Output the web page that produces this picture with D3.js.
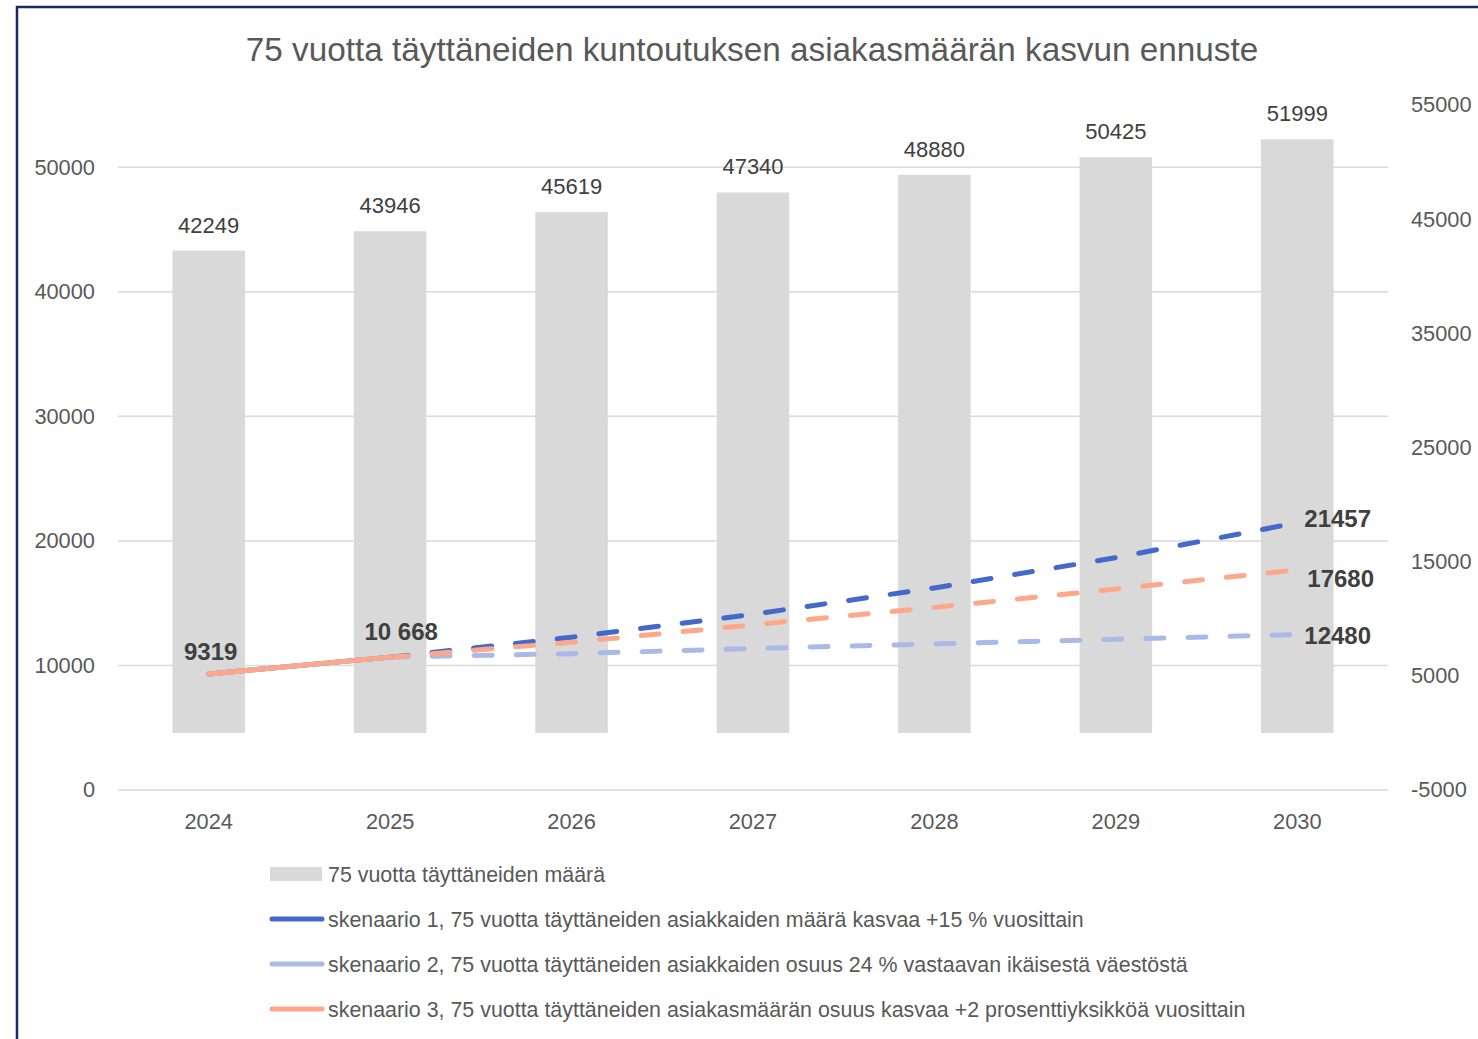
<!DOCTYPE html>
<html>
<head>
<meta charset="utf-8">
<script src="https://cdn.jsdelivr.net/npm/d3@7"></script>
<style>
  body { margin: 0; background: #fff; }
  svg { display: block; font-family: "Liberation Sans", Arial, sans-serif; }
</style>
</head>
<body>
<svg width="1478" height="1039"></svg>
<script>
var years = ['2024', '2025', '2026', '2027', '2028', '2029', '2030'];
var population = [42249, 43946, 45619, 47340, 48880, 50425, 51999];
var scenario1 = [9319, 10668, 12268, 14108, 16224, 18658, 21457];
var scenario2 = [9319, 10668, 10949, 11362, 11731, 12102, 12480];
var scenario3 = [9319, 10668, 11861, 13255, 14664, 16136, 17680];
var leftTicks = [0, 10000, 20000, 30000, 40000, 50000];
var rightTicks = [-5000, 5000, 15000, 25000, 35000, 45000, 55000];
var legendLabels = [
  '75 vuotta täyttäneiden määrä',
  'skenaario 1, 75 vuotta täyttäneiden asiakkaiden määrä kasvaa +15 % vuosittain',
  'skenaario 2, 75 vuotta täyttäneiden asiakkaiden osuus 24 % vastaavan ikäisestä väestöstä',
  'skenaario 3, 75 vuotta täyttäneiden asiakasmäärän osuus kasvaa +2 prosenttiyksikköä vuosittain'
];

var svg = d3.select('svg');
var plot = {left: 118, right: 1388, top: 105, bottom: 790};

// frame
svg.append('rect').attr('x', 17).attr('y', 7).attr('width', 1500).attr('height', 1100)
  .attr('fill', 'none').attr('stroke', '#1c2766').attr('stroke-width', 2.5);

var x = d3.scaleBand().domain(years).range([plot.left, plot.right]).paddingInner(0.6).paddingOuter(0.3);
var yLeft = d3.scaleLinear().domain([0, 55000]).range([plot.bottom, plot.top]);
var yRight = d3.scaleLinear().domain([-5000, 55000]).range([plot.bottom, plot.top]);
var cx = function (d, i) { return x(years[i]) + x.bandwidth() / 2; };
var fmt = function (d) { return String(d); };

// title
svg.append('text').attr('x', 752).attr('y', 61).attr('text-anchor', 'middle')
  .attr('font-size', 33.3).attr('fill', '#595959')
  .text('75 vuotta täyttäneiden kuntoutuksen asiakasmäärän kasvun ennuste');

// grid
svg.append('g').selectAll('line').data(leftTicks).enter().append('line')
  .attr('x1', plot.left).attr('x2', plot.right)
  .attr('y1', function (d) { return yLeft(d); }).attr('y2', function (d) { return yLeft(d); })
  .attr('stroke', '#d9d9d9').attr('stroke-width', 1.5);

// left axis
var leftAxis = svg.append('g').attr('transform', 'translate(' + (plot.left - 20) + ',0)')
  .call(d3.axisLeft(yLeft).tickValues(leftTicks).tickSize(0).tickFormat(fmt));
leftAxis.select('.domain').remove();
leftAxis.selectAll('text').attr('font-size', 21.8).attr('fill', '#595959').attr('font-family', null);

// right axis
var rightAxis = svg.append('g').attr('transform', 'translate(1408,0)')
  .call(d3.axisRight(yRight).tickValues(rightTicks).tickSize(0).tickFormat(fmt));
rightAxis.select('.domain').remove();
rightAxis.selectAll('text').attr('font-size', 21.8).attr('fill', '#595959').attr('font-family', null);

// bottom axis
var bottomAxis = svg.append('g').attr('transform', 'translate(0,' + (plot.bottom + 21) + ')')
  .call(d3.axisBottom(x).tickSize(0));
bottomAxis.select('.domain').remove();
bottomAxis.selectAll('text').attr('font-size', 21.8).attr('fill', '#595959').attr('font-family', null);

// bars
svg.append('g').selectAll('rect').data(population).enter().append('rect')
  .attr('x', function (d, i) { return x(years[i]); })
  .attr('width', x.bandwidth())
  .attr('y', function (d) { return yRight(d); })
  .attr('height', function (d) { return yRight(0) - yRight(d); })
  .attr('fill', '#d9d9d9');

svg.append('g').selectAll('text').data(population).enter().append('text')
  .attr('x', cx)
  .attr('y', function (d) { return yRight(d) - 18; })
  .attr('text-anchor', 'middle').attr('font-size', 22).attr('fill', '#404040')
  .text(function (d) { return d; });

// lines
var series = [
  {values: scenario1, color: '#4468cb'},
  {values: scenario2, color: '#abb9e6'},
  {values: scenario3, color: '#fda88a'}
];
var line = d3.line().x(function (d) { return d.x; }).y(function (d) { return d.y; });
series.forEach(function (s) {
  var pts = s.values.map(function (v, i) { return {x: cx(v, i), y: yLeft(v)}; });
  svg.append('path').attr('d', line(pts.slice(1)))
    .attr('fill', 'none').attr('stroke', s.color).attr('stroke-width', 5)
    .attr('stroke-linecap', 'round').attr('stroke-dasharray', '18,24');
});
series.forEach(function (s) {
  var pts = s.values.map(function (v, i) { return {x: cx(v, i), y: yLeft(v)}; });
  svg.append('path').attr('d', line(pts.slice(0, 2)))
    .attr('fill', 'none').attr('stroke', s.color).attr('stroke-width', 5)
    .attr('stroke-linecap', 'round');
});

// line labels
var bold = function (txt, px, py, anchor) {
  svg.append('text').attr('x', px).attr('y', py).attr('text-anchor', anchor || 'middle')
    .attr('font-size', 24).attr('font-weight', 'bold').attr('fill', '#404040').text(txt);
};
bold(scenario1[0], cx(0, 0) + 2, yLeft(scenario1[0]) - 14);
bold('10 668', cx(0, 1) + 11, yLeft(scenario1[1]) - 17);
bold(scenario1[6], cx(0, 6) + 7, yLeft(scenario1[6]) + 4, 'start');
bold(scenario3[6], cx(0, 6) + 10, yLeft(scenario3[6]) + 17, 'start');
bold(scenario2[6], cx(0, 6) + 7, yLeft(scenario2[6]) + 9, 'start');

// legend
var legend = svg.append('g').selectAll('g').data(legendLabels).enter().append('g')
  .attr('transform', function (d, i) { return 'translate(270,' + (874 + i * 45) + ')'; });
legend.each(function (d, i) {
  var g = d3.select(this);
  if (i === 0) {
    g.append('rect').attr('x', 0).attr('y', -7).attr('width', 52).attr('height', 14).attr('fill', '#d9d9d9');
  } else {
    g.append('line').attr('x1', 2).attr('x2', 52).attr('y1', 0).attr('y2', 0)
      .attr('stroke', series[i - 1].color).attr('stroke-width', 5).attr('stroke-linecap', 'round');
  }
  g.append('text').attr('x', 58).attr('y', 7.5).attr('font-size', 21.4).attr('fill', '#595959').text(d);
});
</script>
</body>
</html>
